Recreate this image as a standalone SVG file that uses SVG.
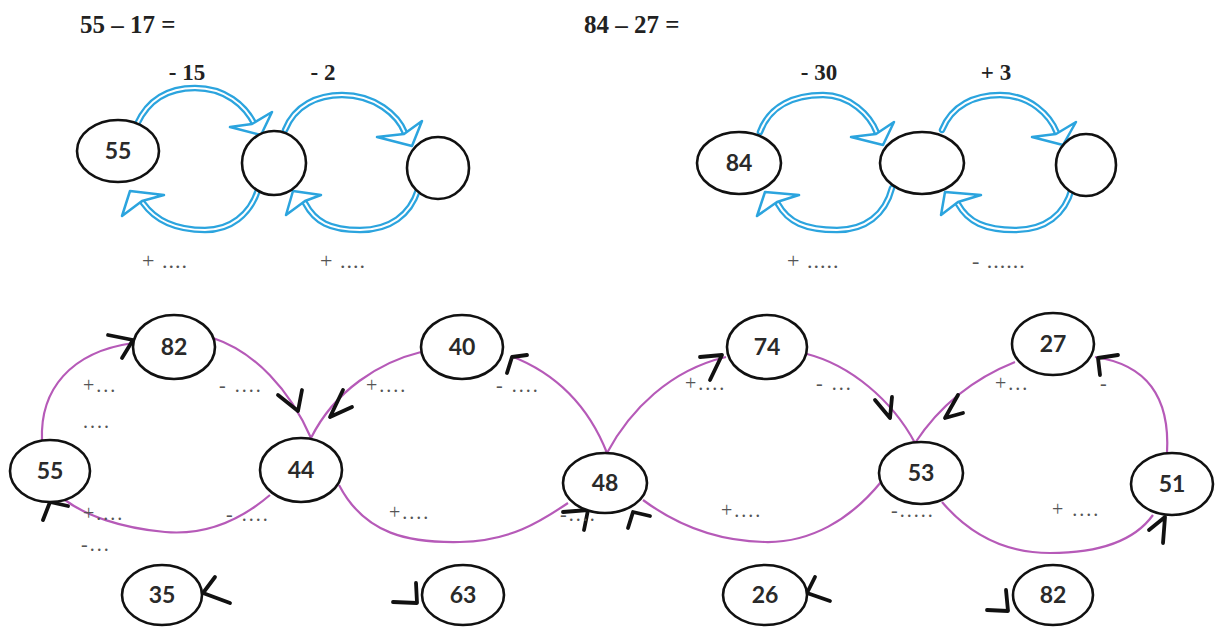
<svg xmlns="http://www.w3.org/2000/svg" xmlns:xlink="http://www.w3.org/1999/xlink" width="1217" height="628" viewBox="0 0 1217 628">
<style>
.bg{fill:#ffffff}
.node{fill:#ffffff;stroke:#111;stroke-width:2.6}
.num{font-family:Lato,"Open Sans","DejaVu Sans",sans-serif;font-size:23px;font-weight:bold;fill:#2a2a2a;text-anchor:middle}
.head{font-family:"Liberation Serif","Times New Roman",serif;font-size:25px;font-weight:bold;fill:#222}
.op{font-family:"Liberation Serif","Times New Roman",serif;font-size:23px;font-weight:bold;fill:#222;text-anchor:middle}
.hint{font-family:"Liberation Serif","Times New Roman",serif;font-size:22px;fill:#555;letter-spacing:1px}
.lab{font-family:"Liberation Serif","Times New Roman",serif;font-size:20px;fill:#555;letter-spacing:2px}
.tubeO{fill:none;stroke:#2ba4de;stroke-width:6.5;stroke-linecap:round}
.tubeI{fill:none;stroke:#ffffff;stroke-width:2;stroke-linecap:round}
.ahead{fill:#ffffff;stroke:#2ba4de;stroke-width:2.5;stroke-linejoin:round}
.pc{fill:none;stroke:#b65ab8;stroke-width:2.2}
.chev{fill:none;stroke:#111;stroke-width:3.8;stroke-linecap:round;stroke-linejoin:round}
</style>
<defs>
<path id="b1" d="M137,124 C150,96 172,88 195,88 C225,88 245,105 255,125"/>
<path id="b2" d="M258,190 C250,215 230,230 205,230 C175,230 155,220 143,203"/>
<path id="b3" d="M285,130 C295,105 318,95 342,95 C375,95 398,115 405,133"/>
<path id="b4" d="M418,190 C410,215 390,230 360,230 C330,230 315,222 305,203"/>
<path id="b5" d="M760,132 C770,105 795,95 823,95 C850,95 870,115 877,133"/>
<path id="b6" d="M892,188 C885,215 865,230 837,230 C805,230 788,222 778,204"/>
<path id="b7" d="M942,130 C952,105 975,95 1000,95 C1030,95 1050,115 1057,133"/>
<path id="b8" d="M1072,188 C1065,215 1045,230 1015,230 C985,230 968,222 958,204"/>
</defs>
<rect class="bg" x="0" y="0" width="1217" height="628"/>

<g id="connectors">
  <g id="blue-arrows">
    <use xlink:href="#b1" class="tubeO"/><use xlink:href="#b1" class="tubeI"/>
    <use xlink:href="#b2" class="tubeO"/><use xlink:href="#b2" class="tubeI"/>
    <use xlink:href="#b3" class="tubeO"/><use xlink:href="#b3" class="tubeI"/>
    <use xlink:href="#b4" class="tubeO"/><use xlink:href="#b4" class="tubeI"/>
    <use xlink:href="#b5" class="tubeO"/><use xlink:href="#b5" class="tubeI"/>
    <use xlink:href="#b6" class="tubeO"/><use xlink:href="#b6" class="tubeI"/>
    <use xlink:href="#b7" class="tubeO"/><use xlink:href="#b7" class="tubeI"/>
    <use xlink:href="#b8" class="tubeO"/><use xlink:href="#b8" class="tubeI"/>
    <polygon class="ahead" points="261,135 230,127 252,124 272,112"/>
    <polygon class="ahead" points="130,191 122,216 142,201 164,195"/>
    <polygon class="ahead" points="412,146 377,137 404,134 422,121"/>
    <polygon class="ahead" points="293,191 286,215 305,201 321,195"/>
    <polygon class="ahead" points="883,145 851,137 876,134 894,122"/>
    <polygon class="ahead" points="765,192 757,216 777,202 799,195"/>
    <polygon class="ahead" points="1063,145 1032,137 1056,134 1076,122"/>
    <polygon class="ahead" points="945,192 941,215 958,202 981,195"/>
  </g>
  <g id="purple-curves">
    <path class="pc" d="M42,440 C40,390 70,352 133,343"/>
    <path class="pc" d="M213,338 C255,352 290,390 311,438"/>
    <path class="pc" d="M421,352 C380,362 335,390 311,438"/>
    <path class="pc" d="M270,495 C235,525 200,535 165,532 C120,528 85,515 65,500"/>
    <path class="pc" d="M339,485 C365,535 410,543 460,542 C510,541 540,522 568,503"/>
    <path class="pc" d="M607,453 C590,410 560,375 511,356"/>
    <path class="pc" d="M607,453 C630,410 670,370 726,357"/>
    <path class="pc" d="M807,354 C850,365 892,400 915,443"/>
    <path class="pc" d="M1015,362 C975,378 940,405 915,443"/>
    <path class="pc" d="M881,482 C850,520 810,543 765,542 C710,541 670,520 643,500"/>
    <path class="pc" d="M942,502 C970,535 1005,553 1050,553 C1100,553 1135,540 1153,515"/>
    <path class="pc" d="M1167,453 C1170,400 1150,365 1095,357"/>
  </g>
  <g id="black-arrowheads">
    <polyline class="chev" points="108,335 133,340 122,358"/>
    <polyline class="chev" points="278,395 298,411 302,390"/>
    <polyline class="chev" points="343,390 330,417 352,407"/>
    <polyline class="chev" points="43,520 50,502 68,506"/>
    <polyline class="chev" points="507,373 512,357 527,355"/>
    <polyline class="chev" points="700,357 722,355 710,380"/>
    <polyline class="chev" points="875,400 890,418 892,397"/>
    <polyline class="chev" points="958,395 945,418 963,413"/>
    <polyline class="chev" points="1149,530 1165,517 1163,543"/>
    <polyline class="chev" points="1100,375 1098,358 1118,355"/>
    <polyline class="chev" points="563,512 588,510 584,530"/>
    <polyline class="chev" points="628,528 633,512 650,516"/>
    <polyline class="chev" points="215,577 203,593 230,603"/>
    <polyline class="chev" points="393,602 417,603 416,583"/>
    <polyline class="chev" points="815,577 807,593 830,601"/>
    <polyline class="chev" points="987,610 1008,611 1006,590"/>
  </g>
</g>

<g id="titles">
  <text class="head" x="80" y="33">55 – 17 =</text>
  <text class="head" x="584" y="33">84 – 27 =</text>
  <text class="op" x="187" y="80">- 15</text>
  <text class="op" x="323" y="80">-  2</text>
  <text class="op" x="819" y="80">- 30</text>
  <text class="op" x="996" y="80">+ 3</text>
  <text class="hint" x="142" y="268">+ ....</text>
  <text class="hint" x="320" y="268">+ ....</text>
  <text class="hint" x="787" y="268">+ .....</text>
  <text class="hint" x="972" y="268">- ......</text>
</g>

<g id="top-55"><ellipse class="node" cx="118" cy="151" rx="41" ry="31"/><text class="num" x="118" y="159">55</text></g>
<g id="top-blank1"><ellipse class="node" cx="274" cy="163" rx="32" ry="32"/></g>
<g id="top-blank2"><ellipse class="node" cx="438" cy="168" rx="31" ry="31"/></g>
<g id="top-84"><ellipse class="node" cx="739" cy="163" rx="42" ry="31"/><text class="num" x="739" y="171">84</text></g>
<g id="top-blank3"><ellipse class="node" cx="922" cy="163" rx="42" ry="31"/></g>
<g id="top-blank4"><ellipse class="node" cx="1086" cy="165" rx="30" ry="31"/></g>

<g id="n82a"><ellipse class="node" cx="174" cy="347" rx="41" ry="32"/><text class="num" x="174" y="355">82</text></g>
<g id="n55"><ellipse class="node" cx="50" cy="471" rx="40" ry="31"/><text class="num" x="50" y="479">55</text></g>
<g id="n44"><ellipse class="node" cx="301" cy="470" rx="41" ry="32"/><text class="num" x="301" y="478">44</text></g>
<g id="n35"><ellipse class="node" cx="162" cy="595" rx="40" ry="30"/><text class="num" x="162" y="603">35</text></g>
<g id="n40"><ellipse class="node" cx="462" cy="347" rx="41" ry="32"/><text class="num" x="462" y="355">40</text></g>
<g id="n48"><ellipse class="node" cx="605" cy="483" rx="42" ry="30"/><text class="num" x="605" y="491">48</text></g>
<g id="n63"><ellipse class="node" cx="463" cy="595" rx="41" ry="30"/><text class="num" x="463" y="603">63</text></g>
<g id="n74"><ellipse class="node" cx="767" cy="347" rx="40" ry="32"/><text class="num" x="767" y="355">74</text></g>
<g id="n53"><ellipse class="node" cx="921" cy="473" rx="42" ry="31"/><text class="num" x="921" y="481">53</text></g>
<g id="n26"><ellipse class="node" cx="765" cy="595" rx="42" ry="30"/><text class="num" x="765" y="603">26</text></g>
<g id="n27"><ellipse class="node" cx="1053" cy="344" rx="41" ry="31"/><text class="num" x="1053" y="352">27</text></g>
<g id="n51"><ellipse class="node" cx="1172" cy="484" rx="41" ry="31"/><text class="num" x="1172" y="492">51</text></g>
<g id="n82b"><ellipse class="node" cx="1053" cy="595" rx="40" ry="30"/><text class="num" x="1053" y="603">82</text></g>

<g id="labels">
  <text class="lab" x="83" y="392">+...</text>
  <text class="lab" x="83" y="428">....</text>
  <text class="lab" x="219" y="392">- ....</text>
  <text class="lab" x="83" y="520">+....</text>
  <text class="lab" x="81" y="551">-...</text>
  <text class="lab" x="226" y="521">- ....</text>
  <text class="lab" x="366" y="392">+....</text>
  <text class="lab" x="496" y="392">- ....</text>
  <text class="lab" x="389" y="519">+....</text>
  <text class="lab" x="560" y="521">-....</text>
  <text class="lab" x="685" y="390">+....</text>
  <text class="lab" x="816" y="390">- ...</text>
  <text class="lab" x="721" y="517">+....</text>
  <text class="lab" x="891" y="517">-.....</text>
  <text class="lab" x="995" y="390">+...</text>
  <text class="lab" x="1100" y="390">-</text>
  <text class="lab" x="1052" y="516">+ ....</text>
</g>
</svg>
